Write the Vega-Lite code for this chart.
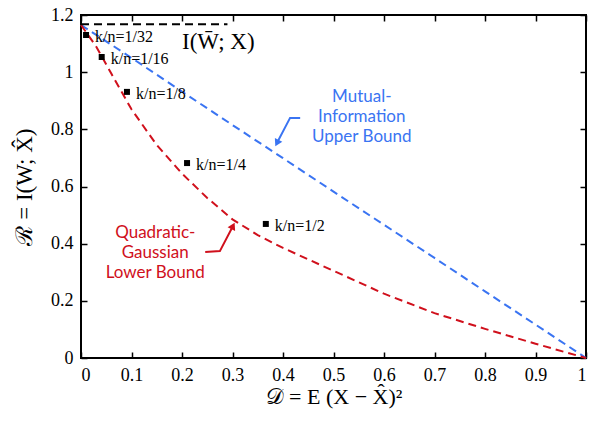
{
  "$schema": "https://vega.github.io/schema/vega-lite/v6.json",
  "width": 505,
  "height": 343,
  "autosize": {"type": "none"},
  "padding": {"left": 81, "top": 15, "right": 9, "bottom": 66},
  "background": "white",
  "config": {
    "view": {"stroke": "black", "strokeWidth": 2},
    "axis": {
      "grid": false,
      "zindex": 1,
      "domain": false,
      "offset": -6,
      "tickColor": "black",
      "tickWidth": 1.5,
      "tickSize": 6,
      "format": "~g",
      "labelFont": "Liberation Serif",
      "labelFontSize": 18,
      "labelColor": "black",
      "titleFont": "Liberation Serif",
      "titleFontSize": 22,
      "titleFontWeight": "normal",
      "titleColor": "black"
    }
  },
  "datasets": {
    "curves": [
      {"series": "upper", "D": 0, "R": 1.165},
      {"series": "upper", "D": 0.1, "R": 1.05},
      {"series": "upper", "D": 0.2, "R": 0.932},
      {"series": "upper", "D": 0.3, "R": 0.815},
      {"series": "upper", "D": 0.4, "R": 0.699},
      {"series": "upper", "D": 0.5, "R": 0.582},
      {"series": "upper", "D": 0.6, "R": 0.466},
      {"series": "upper", "D": 0.7, "R": 0.35},
      {"series": "upper", "D": 0.8, "R": 0.233},
      {"series": "upper", "D": 0.9, "R": 0.117},
      {"series": "upper", "D": 1.0, "R": 0},
      {"series": "lower", "D": 0, "R": 1.165},
      {"series": "lower", "D": 0.03, "R": 1.09},
      {"series": "lower", "D": 0.06, "R": 0.995},
      {"series": "lower", "D": 0.1, "R": 0.87},
      {"series": "lower", "D": 0.15, "R": 0.745},
      {"series": "lower", "D": 0.2, "R": 0.645},
      {"series": "lower", "D": 0.25, "R": 0.56},
      {"series": "lower", "D": 0.3, "R": 0.485},
      {"series": "lower", "D": 0.35, "R": 0.43},
      {"series": "lower", "D": 0.4, "R": 0.385},
      {"series": "lower", "D": 0.45, "R": 0.345},
      {"series": "lower", "D": 0.5, "R": 0.305},
      {"series": "lower", "D": 0.6, "R": 0.225},
      {"series": "lower", "D": 0.7, "R": 0.157},
      {"series": "lower", "D": 0.8, "R": 0.102},
      {"series": "lower", "D": 0.9, "R": 0.05},
      {"series": "lower", "D": 1.0, "R": 0},
      {"series": "mi", "D": 0, "R": 1.168},
      {"series": "mi", "D": 0.29, "R": 1.168}
    ],
    "points": [
      {"D": 0.01, "R": 1.13, "label": "k/n=1/32"},
      {"D": 0.041, "R": 1.053, "label": "k/n=1/16"},
      {"D": 0.091, "R": 0.931, "label": "k/n=1/8"},
      {"D": 0.21, "R": 0.682, "label": "k/n=1/4"},
      {"D": 0.366, "R": 0.469, "label": "k/n=1/2"}
    ],
    "notes": [
      {"series": "upper", "D": 0.556, "R": 0.913, "text": "Mutual-"},
      {"series": "upper", "D": 0.556, "R": 0.843, "text": "Information"},
      {"series": "upper", "D": 0.556, "R": 0.773, "text": "Upper Bound"},
      {"series": "lower", "D": 0.147, "R": 0.437, "text": "Quadratic-"},
      {"series": "lower", "D": 0.147, "R": 0.367, "text": "Gaussian"},
      {"series": "lower", "D": 0.147, "R": 0.297, "text": "Lower Bound"}
    ],
    "arrows": [
      {"series": "upper", "step": 1, "D": 0.434, "R": 0.84},
      {"series": "upper", "step": 2, "D": 0.414, "R": 0.84},
      {"series": "upper", "step": 3, "D": 0.388, "R": 0.752},
      {"series": "lower", "step": 1, "D": 0.246, "R": 0.371},
      {"series": "lower", "step": 2, "D": 0.275, "R": 0.374},
      {"series": "lower", "step": 3, "D": 0.301, "R": 0.462}
    ],
    "heads": [
      {"series": "upper", "D": 0.388, "R": 0.752, "angle": 207},
      {"series": "lower", "D": 0.301, "R": 0.462, "angle": 27}
    ],
    "mitext": [
      {"D": 0.2, "R": 1.105, "text": "I(W̄; X)"}
    ],
    "ticks": [
      {"D": 0, "R": 0}, {"D": 0.1, "R": 0.2}, {"D": 0.2, "R": 0.4}, {"D": 0.3, "R": 0.6},
      {"D": 0.4, "R": 0.8}, {"D": 0.5, "R": 1}, {"D": 0.6, "R": 1.2}, {"D": 0.7, "R": 1.2},
      {"D": 0.8, "R": 1.2}, {"D": 0.9, "R": 1.2}, {"D": 1, "R": 1.2}
    ]
  },
  "resolve": {"axis": {"x": "independent", "y": "independent"}},
  "layer": [
    {
      "data": {"name": "curves"},
      "mark": {"type": "line", "strokeDash": [8, 5], "strokeWidth": 2},
      "encoding": {
        "x": {
          "field": "D", "type": "quantitative",
          "scale": {"domain": [0, 1], "nice": false},
          "axis": {"orient": "bottom", "values": [0, 0.1, 0.2, 0.3, 0.4, 0.5, 0.6, 0.7, 0.8, 0.9, 1], "title": "𝒟 = E (X − X̂)²", "labelPadding": 8, "titlePadding": 2}
        },
        "y": {
          "field": "R", "type": "quantitative",
          "scale": {"domain": [0, 1.2], "nice": false},
          "axis": {"orient": "left", "values": [0, 0.2, 0.4, 0.6, 0.8, 1, 1.2], "title": "ℛ = I(W; X̂)", "labelPadding": 8, "titlePadding": 14, "titleFontSize": 23}
        },
        "color": {
          "field": "series", "type": "nominal",
          "scale": {"domain": ["upper", "lower", "mi"], "range": ["#3a74f2", "#d0101c", "#000000"]},
          "legend": null
        }
      }
    },
    {
      "data": {"name": "ticks"},
      "mark": {"type": "point", "opacity": 0},
      "encoding": {
        "x": {"field": "D", "type": "quantitative", "axis": {"orient": "top", "labels": false, "title": null, "values": [0, 0.1, 0.2, 0.3, 0.4, 0.5, 0.6, 0.7, 0.8, 0.9, 1]}},
        "y": {"field": "R", "type": "quantitative", "axis": {"orient": "right", "labels": false, "title": null, "values": [0, 0.2, 0.4, 0.6, 0.8, 1, 1.2]}}
      }
    },
    {
      "data": {"name": "points"},
      "mark": {"type": "point", "shape": "square", "filled": true, "size": 36, "color": "black", "opacity": 1},
      "encoding": {
        "x": {"field": "D", "type": "quantitative", "axis": null},
        "y": {"field": "R", "type": "quantitative", "axis": null}
      }
    },
    {
      "data": {"name": "points"},
      "mark": {"type": "text", "align": "left", "baseline": "middle", "dx": 9, "dy": 2, "font": "Liberation Serif", "fontSize": 16, "color": "black"},
      "encoding": {
        "x": {"field": "D", "type": "quantitative", "axis": null},
        "y": {"field": "R", "type": "quantitative", "axis": null},
        "text": {"field": "label"}
      }
    },
    {
      "data": {"name": "mitext"},
      "mark": {"type": "text", "align": "left", "baseline": "middle", "font": "Liberation Serif", "fontSize": 23, "color": "black"},
      "encoding": {
        "x": {"field": "D", "type": "quantitative", "axis": null},
        "y": {"field": "R", "type": "quantitative", "axis": null},
        "text": {"field": "text"}
      }
    },
    {
      "data": {"name": "notes"},
      "mark": {"type": "text", "align": "center", "baseline": "middle", "font": "Lato", "fontSize": 17},
      "encoding": {
        "x": {"field": "D", "type": "quantitative", "axis": null},
        "y": {"field": "R", "type": "quantitative", "axis": null},
        "text": {"field": "text"},
        "color": {"field": "series", "type": "nominal", "legend": null}
      }
    },
    {
      "data": {"name": "arrows"},
      "mark": {"type": "line", "strokeWidth": 2},
      "encoding": {
        "x": {"field": "D", "type": "quantitative", "axis": null},
        "y": {"field": "R", "type": "quantitative", "axis": null},
        "order": {"field": "step"},
        "color": {"field": "series", "type": "nominal", "legend": null}
      }
    },
    {
      "data": {"name": "heads"},
      "mark": {"type": "point", "shape": "triangle-up", "filled": true, "size": 70, "opacity": 1},
      "encoding": {
        "x": {"field": "D", "type": "quantitative", "axis": null},
        "y": {"field": "R", "type": "quantitative", "axis": null},
        "angle": {"field": "angle", "type": "quantitative", "scale": null},
        "color": {"field": "series", "type": "nominal", "legend": null}
      }
    }
  ]
}
